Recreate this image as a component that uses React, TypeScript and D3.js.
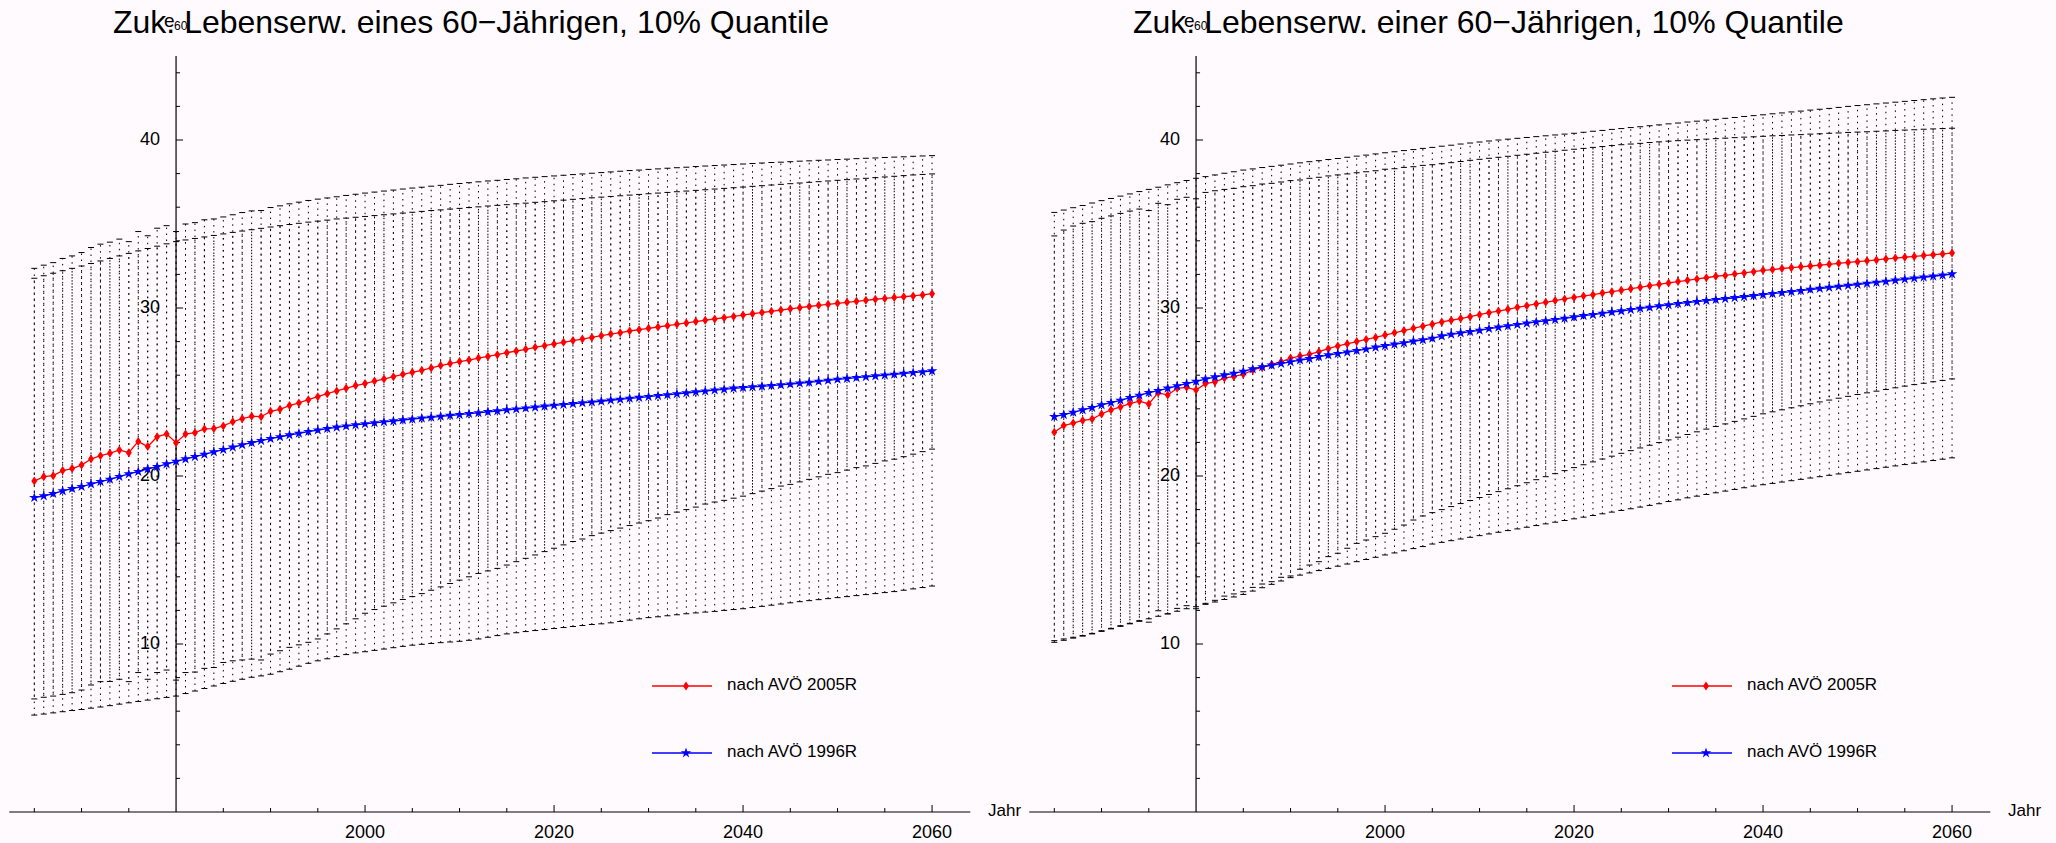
import * as React from "react";
import * as d3 from "d3";

// years 1965..2060, one error bar and one marker per year
const YEARS = d3.range(1965, 2061);

const X_LABELS = [2000, 2020, 2040, 2060];
const Y_LABELS = [10, 20, 30, 40];

const TITLES = [
  "Zuk. Lebenserw. eines 60\u2212Jährigen, 10% Quantile",
  "Zuk. Lebenserw. einer 60\u2212Jährigen, 10% Quantile",
];
const LEGEND = ["nach AVÖ 2005R", "nach AVÖ 1996R"];

// --- men (left panel) ---
const M_2005 = [
  19.7, 19.96, 20.02, 20.32, 20.44, 20.65, 21.01, 21.21, 21.35, 21.55,
  21.39, 22.06, 21.75, 22.34, 22.5, 21.98, 22.5, 22.58, 22.8, 22.82,
  22.98, 23.23, 23.41, 23.55, 23.53, 23.85, 23.97, 24.19, 24.35, 24.54,
  24.72, 24.9, 25.06, 25.22, 25.38, 25.5, 25.65, 25.77, 25.91, 26.05,
  26.17, 26.29, 26.43, 26.57, 26.69, 26.81, 26.9, 27.02, 27.12, 27.22,
  27.34, 27.44, 27.54, 27.66, 27.76, 27.86, 27.96, 28.06, 28.15, 28.25,
  28.35, 28.45, 28.53, 28.63, 28.71, 28.79, 28.87, 28.95, 29.03, 29.11,
  29.19, 29.27, 29.35, 29.42, 29.5, 29.58, 29.66, 29.73, 29.8, 29.88,
  29.95, 30.02, 30.09, 30.16, 30.22, 30.28, 30.34, 30.4, 30.46, 30.52,
  30.57, 30.62, 30.67, 30.72, 30.78, 30.85,
];
const M_1996 = [
  18.71, 18.81, 18.95, 19.11, 19.25, 19.37, 19.52, 19.66, 19.8, 19.96,
  20.12, 20.26, 20.42, 20.56, 20.71, 20.87, 21.01, 21.15, 21.29, 21.43,
  21.57, 21.71, 21.85, 21.98, 22.1, 22.22, 22.33, 22.44, 22.54, 22.64,
  22.73, 22.82, 22.9, 22.97, 23.04, 23.1, 23.16, 23.22, 23.27, 23.33,
  23.38, 23.44, 23.49, 23.55, 23.6, 23.65, 23.71, 23.76, 23.82, 23.87,
  23.93, 23.98, 24.04, 24.09, 24.15, 24.2, 24.25, 24.3, 24.35, 24.4,
  24.45, 24.51, 24.56, 24.62, 24.67, 24.72, 24.78, 24.83, 24.89, 24.94,
  25.0, 25.05, 25.11, 25.16, 25.22, 25.26, 25.3, 25.34, 25.38, 25.42,
  25.47, 25.52, 25.57, 25.63, 25.69, 25.75, 25.8, 25.85, 25.9, 25.95,
  26.0, 26.05, 26.1, 26.15, 26.2, 26.25,
];
const M_2005_HI = [
  32.36, 32.55, 32.7, 32.95, 33.1, 33.3, 33.6, 33.8, 33.92, 34.1,
  33.95, 34.55, 34.3, 34.75, 34.9, 34.55, 35.0, 35.08, 35.25, 35.3,
  35.42, 35.55, 35.68, 35.78, 35.8, 35.98, 36.08, 36.2, 36.3, 36.4,
  36.48, 36.55, 36.62, 36.7, 36.77, 36.84, 36.9, 36.96, 37.02, 37.08,
  37.14, 37.19, 37.25, 37.3, 37.36, 37.41, 37.46, 37.51, 37.56, 37.6,
  37.65, 37.69, 37.74, 37.78, 37.82, 37.86, 37.9, 37.94, 37.98, 38.02,
  38.06, 38.1, 38.14, 38.18, 38.21, 38.25, 38.28, 38.32, 38.35, 38.38,
  38.42, 38.45, 38.48, 38.51, 38.54, 38.57, 38.6, 38.63, 38.66, 38.68,
  38.71, 38.74, 38.76, 38.79, 38.81, 38.84, 38.86, 38.89, 38.91, 38.93,
  38.96, 38.98, 39.0, 39.03, 39.05, 39.07,
];
const M_2005_LO = [
  6.73, 6.83, 6.9, 7.0, 7.1, 7.26, 7.56, 7.76, 7.77, 7.9,
  7.76, 8.3, 7.9, 8.3, 8.45, 7.85, 8.3, 8.33, 8.55, 8.6,
  8.9, 9.0, 9.05, 9.1, 9.05, 9.4, 9.6, 9.8, 9.95, 10.1,
  10.3, 10.6, 10.9, 11.2, 11.5, 11.83, 12.05, 12.25, 12.45, 12.65,
  12.82, 13.0, 13.2, 13.4, 13.6, 13.8, 14.0, 14.2, 14.35, 14.5,
  14.7, 14.9, 15.1, 15.3, 15.5, 15.7, 15.9, 16.1, 16.25, 16.45,
  16.6, 16.75, 16.9, 17.05, 17.2, 17.34, 17.5, 17.7, 17.85, 18.0,
  18.15, 18.33, 18.45, 18.55, 18.68, 18.8, 18.95, 19.1, 19.25, 19.4,
  19.5, 19.65, 19.8, 19.95, 20.1, 20.2, 20.35, 20.5, 20.6, 20.75,
  20.9, 21.0, 21.15, 21.3, 21.45, 21.6,
];
const M_1996_HI = [
  31.77, 31.92, 32.07, 32.22, 32.36, 32.5, 32.65, 32.8, 32.95, 33.1,
  33.25, 33.4, 33.54, 33.68, 33.82, 33.95, 34.05, 34.14, 34.23, 34.32,
  34.41, 34.5, 34.58, 34.66, 34.74, 34.82, 34.9, 34.97, 35.04, 35.11,
  35.17, 35.23, 35.3, 35.35, 35.4, 35.45, 35.5, 35.55, 35.6, 35.65,
  35.7, 35.75, 35.8, 35.84, 35.89, 35.93, 35.98, 36.02, 36.07, 36.11,
  36.15, 36.2, 36.24, 36.29, 36.33, 36.38, 36.42, 36.47, 36.51, 36.56,
  36.6, 36.64, 36.68, 36.72, 36.76, 36.8, 36.84, 36.88, 36.92, 36.96,
  37.0, 37.04, 37.08, 37.12, 37.16, 37.2, 37.24, 37.28, 37.32, 37.36,
  37.4, 37.44, 37.48, 37.52, 37.56, 37.6, 37.64, 37.68, 37.72, 37.76,
  37.8, 37.84, 37.88, 37.92, 37.95, 37.98,
];
const M_1996_LO = [
  5.77, 5.83, 5.9, 5.97, 6.04, 6.1, 6.18, 6.25, 6.33, 6.42,
  6.5, 6.58, 6.66, 6.74, 6.82, 6.9, 7.05, 7.2, 7.35, 7.5,
  7.65, 7.78, 7.9, 8.02, 8.1, 8.2, 8.35, 8.5, 8.68, 8.85,
  9.0, 9.12, 9.25, 9.37, 9.47, 9.54, 9.62, 9.7, 9.78, 9.86,
  9.93, 9.98, 10.03, 10.08, 10.12, 10.16, 10.22, 10.3, 10.4, 10.5,
  10.6, 10.67, 10.74, 10.8, 10.86, 10.92, 10.98, 11.04, 11.1, 11.16,
  11.2, 11.26, 11.34, 11.42, 11.5, 11.57, 11.62, 11.68, 11.74, 11.8,
  11.85, 11.9, 11.94, 12.0, 12.05, 12.1, 12.17, 12.24, 12.31, 12.38,
  12.45, 12.52, 12.58, 12.64, 12.7, 12.76, 12.82, 12.88, 12.94, 13.0,
  13.06, 13.12, 13.2, 13.28, 13.36, 13.45,
];

// --- women (right panel) ---
const F_2005 = [
  22.6, 23.0, 23.15, 23.31, 23.39, 23.69, 23.93, 24.11, 24.31, 24.46,
  24.29, 24.96, 24.82, 25.22, 25.28, 25.12, 25.5, 25.6, 25.83, 25.93,
  26.05, 26.31, 26.47, 26.65, 26.8, 27.02, 27.14, 27.24, 27.4, 27.58,
  27.74, 27.87, 28.0, 28.13, 28.25, 28.39, 28.52, 28.66, 28.79, 28.92,
  29.04, 29.17, 29.27, 29.37, 29.48, 29.6, 29.72, 29.82, 29.92, 30.04,
  30.14, 30.24, 30.34, 30.44, 30.54, 30.63, 30.71, 30.79, 30.89, 30.97,
  31.05, 31.15, 31.23, 31.33, 31.41, 31.49, 31.57, 31.65, 31.73, 31.8,
  31.89, 31.94, 32.02, 32.09, 32.16, 32.24, 32.29, 32.35, 32.4, 32.45,
  32.5, 32.55, 32.6, 32.66, 32.71, 32.76, 32.81, 32.86, 32.92, 32.97,
  33.02, 33.07, 33.12, 33.17, 33.22, 33.27,
];
const F_1996 = [
  23.53, 23.65, 23.79, 23.93, 24.07, 24.23, 24.37, 24.5, 24.66, 24.8,
  24.96, 25.08, 25.22, 25.36, 25.5, 25.63, 25.77, 25.89, 26.01, 26.11,
  26.23, 26.37, 26.49, 26.59, 26.69, 26.79, 26.9, 26.98, 27.1, 27.2,
  27.28, 27.37, 27.46, 27.55, 27.66, 27.75, 27.84, 27.92, 28.02, 28.1,
  28.19, 28.33, 28.43, 28.51, 28.59, 28.67, 28.77, 28.85, 28.93, 29.01,
  29.09, 29.17, 29.23, 29.31, 29.38, 29.46, 29.54, 29.6, 29.68, 29.76,
  29.82, 29.9, 29.98, 30.04, 30.12, 30.18, 30.26, 30.32, 30.38, 30.44,
  30.5, 30.55, 30.61, 30.67, 30.73, 30.79, 30.85, 30.91, 30.97, 31.03,
  31.1, 31.16, 31.22, 31.28, 31.34, 31.4, 31.46, 31.52, 31.58, 31.65,
  31.71, 31.77, 31.83, 31.89, 31.95, 32.02,
];
const F_2005_HI = [
  34.29, 34.64, 34.88, 35.04, 35.14, 35.34, 35.48, 35.63, 35.77, 35.89,
  35.8, 36.23, 36.15, 36.47, 36.59, 36.5, 36.88, 36.98, 37.06, 37.12,
  37.22, 37.28, 37.38, 37.42, 37.5, 37.58, 37.62, 37.72, 37.78, 37.86,
  37.92, 37.98, 38.05, 38.11, 38.17, 38.26, 38.29, 38.37, 38.41, 38.49,
  38.53, 38.59, 38.65, 38.72, 38.79, 38.85, 38.91, 38.97, 39.03, 39.09,
  39.15, 39.21, 39.27, 39.33, 39.39, 39.45, 39.5, 39.56, 39.61, 39.67,
  39.72, 39.76, 39.8, 39.85, 39.89, 39.93, 39.96, 39.99, 40.02, 40.05,
  40.08, 40.11, 40.14, 40.17, 40.19, 40.22, 40.25, 40.27, 40.3, 40.32,
  40.35, 40.37, 40.4, 40.42, 40.45, 40.47, 40.49, 40.52, 40.54, 40.57,
  40.59, 40.61, 40.64, 40.66, 40.68, 40.7,
];
const F_2005_LO = [
  10.2, 10.3, 10.4, 10.5, 10.63, 10.79, 10.93, 11.09, 11.23, 11.39,
  11.3, 11.98, 11.79, 12.12, 12.28, 12.1, 12.42, 12.6, 12.85, 12.98,
  13.11, 13.37, 13.57, 13.71, 13.97, 14.05, 14.45, 14.7, 14.9, 15.2,
  15.4, 15.7, 15.99, 16.19, 16.39, 16.59, 16.83, 17.08, 17.38, 17.62,
  17.82, 18.0, 18.18, 18.36, 18.54, 18.72, 18.9, 19.07, 19.24, 19.42,
  19.6, 19.78, 19.96, 20.14, 20.32, 20.5, 20.67, 20.84, 21.01, 21.18,
  21.35, 21.51, 21.67, 21.83, 21.99, 22.15, 22.31, 22.47, 22.63, 22.79,
  22.95, 23.1, 23.25, 23.4, 23.55, 23.7, 23.82, 23.94, 24.06, 24.18,
  24.3, 24.41, 24.52, 24.63, 24.74, 24.85, 24.95, 25.05, 25.15, 25.25,
  25.35, 25.44, 25.52, 25.61, 25.69, 25.78,
];
const F_1996_HI = [
  35.69, 35.83, 35.97, 36.1, 36.25, 36.39, 36.52, 36.66, 36.79, 36.93,
  37.06, 37.19, 37.33, 37.46, 37.59, 37.72, 37.82, 37.92, 38.02, 38.11,
  38.21, 38.28, 38.36, 38.43, 38.5, 38.57, 38.64, 38.71, 38.77, 38.84,
  38.9, 38.97, 39.04, 39.1, 39.17, 39.24, 39.3, 39.37, 39.43, 39.5,
  39.56, 39.63, 39.69, 39.76, 39.82, 39.88, 39.94, 40.0, 40.05, 40.1,
  40.15, 40.2, 40.25, 40.3, 40.35, 40.4, 40.46, 40.52, 40.57, 40.63,
  40.68, 40.74, 40.79, 40.85, 40.9, 40.96, 41.01, 41.07, 41.12, 41.18,
  41.23, 41.29, 41.34, 41.4, 41.45, 41.5, 41.56, 41.61, 41.67, 41.72,
  41.78, 41.83, 41.88, 41.94, 42.0, 42.05, 42.1, 42.15, 42.2, 42.25,
  42.3, 42.35, 42.4, 42.45, 42.5, 42.54,
];
const F_1996_LO = [
  10.1, 10.22, 10.35, 10.47, 10.6, 10.75, 10.9, 11.05, 11.2, 11.35,
  11.5, 11.65, 11.8, 11.95, 12.1, 12.22, 12.36, 12.5, 12.65, 12.8,
  12.95, 13.15, 13.35, 13.55, 13.75, 13.95, 14.1, 14.23, 14.37, 14.5,
  14.63, 14.76, 14.9, 15.03, 15.16, 15.3, 15.42, 15.55, 15.68, 15.8,
  15.95, 16.05, 16.15, 16.25, 16.35, 16.45, 16.55, 16.65, 16.75, 16.85,
  16.95, 17.05, 17.15, 17.25, 17.35, 17.45, 17.55, 17.65, 17.75, 17.85,
  17.95, 18.05, 18.15, 18.25, 18.35, 18.48, 18.58, 18.7, 18.8, 18.9,
  19.0, 19.1, 19.2, 19.3, 19.4, 19.48, 19.56, 19.64, 19.72, 19.8,
  19.88, 19.96, 20.04, 20.12, 20.2, 20.28, 20.36, 20.44, 20.52, 20.6,
  20.68, 20.76, 20.84, 20.92, 21.0, 21.08,
];

const FONT = "'Liberation Sans', Arial, Helvetica, sans-serif";
const RED = "#ff0000";
const BLUE = "#0000ff";

const x = d3.scaleLinear().domain([1965, 2060]).range([34.3, 932.05]);
const y = d3.scaleLinear().domain([0, 45]).range([812, 56]);

const DIAMOND = "M0,-4.5L3,0L0,4.5L-3,0Z";
const STAR = d3.symbol().type(d3.symbolStar).size(34)() as string;

interface IBarsProps {
  lo: number[];
  hi: number[];
  offset: number;
}

const ErrorBars = (props: IBarsProps) => {
  const { lo, hi, offset } = props;
  return (
    <g stroke="#000" strokeWidth={1} fill="none">
      {YEARS.map((yr, i) => {
        const px = x(yr);
        const y0 = y(lo[i]);
        const y1 = y(hi[i]);
        return (
          <g key={yr}>
            <line x1={px} x2={px} y1={y0} y2={y1} strokeDasharray="1.5,4.5" strokeDashoffset={offset} />
            <line x1={px - 3} x2={px + 3} y1={y0} y2={y0} />
            <line x1={px - 3} x2={px + 3} y1={y1} y2={y1} />
          </g>
        );
      })}
    </g>
  );
};

interface ISeriesProps {
  values: number[];
  color: string;
  marker: string;
}

const Series = (props: ISeriesProps) => {
  const { values, color, marker } = props;
  const line = d3
    .line<number>()
    .x((_, i) => x(YEARS[i]))
    .y((d) => y(d));
  return (
    <g>
      <path d={line(values) || ""} fill="none" stroke={color} strokeWidth={1.3} />
      {values.map((v, i) => (
        <path key={i} d={marker} transform={`translate(${x(YEARS[i])},${y(v)})`} fill={color} />
      ))}
    </g>
  );
};

interface IPanelProps {
  dx: number;
  title: string;
  s2005: number[];
  s1996: number[];
  lo2005: number[];
  hi2005: number[];
  lo1996: number[];
  hi1996: number[];
}

const Panel = (props: IPanelProps) => {
  const { dx, title, s2005, s1996, lo2005, hi2005, lo1996, hi1996 } = props;
  const ax = x(1980);
  const minorX = d3.range(1965, 2061, 5).filter((v) => v !== 1980 && !X_LABELS.includes(v));
  const minorY = d3.range(2, 45, 2).filter((v) => !Y_LABELS.includes(v));

  return (
    <g transform={`translate(${dx},0)`} fontFamily={FONT}>
      <ErrorBars lo={lo1996} hi={hi1996} offset={0} />
      <ErrorBars lo={lo2005} hi={hi2005} offset={3} />

      {/* axes */}
      <g stroke="#000" strokeWidth={1.2}>
        <line x1={x(1962.35)} x2={x(2064.05)} y1={y(0)} y2={y(0)} />
        <line x1={ax} x2={ax} y1={y(0)} y2={y(45)} />
        {minorX.map((v) => (
          <line key={v} x1={x(v)} x2={x(v)} y1={y(0)} y2={y(0) - 4} strokeWidth={1} />
        ))}
        {X_LABELS.map((v) => (
          <line key={v} x1={x(v)} x2={x(v)} y1={y(0)} y2={y(0) - 7} strokeWidth={1} />
        ))}
        {minorY.map((v) => (
          <line key={v} x1={ax} x2={ax + 4} y1={y(v)} y2={y(v)} strokeWidth={1} />
        ))}
        {Y_LABELS.map((v) => (
          <line key={v} x1={ax} x2={ax + 7} y1={y(v)} y2={y(v)} strokeWidth={1} />
        ))}
      </g>
      {X_LABELS.map((v) => (
        <text key={v} x={x(v)} y={833} textAnchor="middle" dominantBaseline="middle" fontSize={18}>
          {v}
        </text>
      ))}
      {Y_LABELS.map((v) => (
        <text key={v} x={ax - 16} y={y(v)} textAnchor="end" dominantBaseline="middle" fontSize={18}>
          {v}
        </text>
      ))}
      <text x={988} y={y(0)} dominantBaseline="middle" fontSize={17}>
        Jahr
      </text>

      <Series values={s2005} color={RED} marker={DIAMOND} />
      <Series values={s1996} color={BLUE} marker={STAR} />

      {/* title and axis label (the label sits over the title, as in the original) */}
      <text x={113} y={33} fontSize={32}>
        {title}
      </text>
      <text x={ax - 12} y={27} fontSize={19}>
        e
      </text>
      <text x={ax - 2} y={30} fontSize={12}>
        60
      </text>

      {/* legend */}
      {[
        { label: LEGEND[0], color: RED, marker: DIAMOND, ly: 686 },
        { label: LEGEND[1], color: BLUE, marker: STAR, ly: 753 },
      ].map((d) => (
        <g key={d.label}>
          <line x1={652} x2={712} y1={d.ly} y2={d.ly} stroke={d.color} strokeWidth={1.3} />
          <path d={d.marker} transform={`translate(686,${d.ly})`} fill={d.color} />
          <text x={727} y={d.ly} dominantBaseline="middle" fontSize={17}>
            {d.label}
          </text>
        </g>
      ))}
    </g>
  );
};

export default function App() {
  return (
    <svg
      width={2056}
      height={843}
      style={{ position: "absolute", left: 0, top: 0, display: "block" }}
    >
      <rect width={2056} height={843} fill="#fefafe" />
      <Panel
        dx={0}
        title={TITLES[0]}
        s2005={M_2005}
        s1996={M_1996}
        lo2005={M_2005_LO}
        hi2005={M_2005_HI}
        lo1996={M_1996_LO}
        hi1996={M_1996_HI}
      />
      <Panel
        dx={1020}
        title={TITLES[1]}
        s2005={F_2005}
        s1996={F_1996}
        lo2005={F_2005_LO}
        hi2005={F_2005_HI}
        lo1996={F_1996_LO}
        hi1996={F_1996_HI}
      />
    </svg>
  );
}
